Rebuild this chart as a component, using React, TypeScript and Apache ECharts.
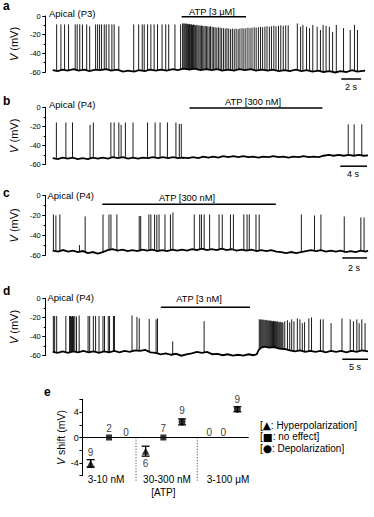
import React, { useEffect, useRef } from 'react';
import * as echarts from 'echarts';

const FONT = '"Liberation Sans", Arial, Helvetica, sans-serif';

// ---------- Panel a (time in s, voltage in mV) ----------
const aBaseline: [number, number][] = [[0.7, -58], [1.2, -59], [1.7, -57.5], [2.2, -58.5], [2.8, -57], [3.3, -58.5], [3.9, -57.5], [4.4, -59], [5.0, -57.5], [5.5, -58], [6.1, -57], [6.6, -58.5], [7.2, -57.5], [7.8, -59.5], [8.3, -58.5], [8.9, -59.5], [9.4, -58], [10.0, -59], [10.5, -57.5], [11.1, -58.5], [11.6, -57.5], [12.2, -58.5], [12.8, -57], [13.3, -58], [13.9, -56.5], [14.5, -57.5], [15.0, -56.5], [15.6, -58], [16.2, -57], [16.7, -58], [17.3, -57], [17.8, -58.5], [18.4, -57.5], [19.0, -58.5], [19.5, -57], [20.1, -58], [20.7, -57], [21.2, -58.5], [21.8, -57.5], [22.4, -58.5], [22.9, -57.5], [23.5, -59], [24.1, -58], [24.6, -59], [25.2, -57.5], [25.8, -59], [26.3, -58], [26.9, -59.5], [27.5, -58.5], [28.0, -60], [28.6, -59], [29.2, -60.5], [29.7, -59], [30.3, -60], [30.9, -58], [31.4, -59.5], [32.2, -58.5]];
const aSpikes: [number, number][] = [
  [1.10, -9], [1.53, -9], [1.90, -9], [2.30, -9], [2.97, -9], [3.17, -9], [3.43, -9], [3.70, -9], [4.13, -9], [4.43, -11], [5.03, -9], [5.23, -9], [5.43, -9], [5.63, -9], [5.90, -9], [6.10, -9], [6.37, -9], [6.67, -9], [6.90, -9], [7.37, -11], [8.87, -9], [9.37, -9], [9.73, -9], [9.93, -9], [10.27, -9], [10.60, -9], [10.93, -9], [11.27, -9], [11.73, -9], [12.10, -9], [12.40, -9], [13.03, -9], [13.60, -9], [13.80, -8],
  [13.92, -8], [14.02, -8], [14.12, -8.5], [14.21, -8], [14.31, -8.5], [14.40, -9], [14.50, -8.5], [14.61, -9], [14.70, -9], [14.80, -9.5], [14.91, -9], [15.02, -9.5], [15.12, -10], [15.23, -9.5], [15.35, -10], [15.46, -10], [15.58, -10.5], [15.70, -10], [15.83, -10.5], [15.95, -11], [16.08, -10.5], [16.22, -11], [16.35, -11], [16.49, -11.5], [16.62, -11], [16.78, -11.5], [16.93, -12], [17.08, -12], [17.25, -12.5], [17.41, -12], [17.58, -12.5], [17.74, -13], [17.92, -13], [18.10, -13.5], [18.27, -13], [18.45, -13.5], [18.64, -14], [18.82, -13.5], [19.01, -14], [19.20, -13.5], [19.40, -14], [19.58, -13.5], [19.79, -13], [19.98, -13.5], [20.18, -13], [20.39, -12.5], [20.60, -13], [20.80, -12.5], [21.02, -12], [21.22, -12.5], [21.44, -12], [21.66, -11.5], [21.87, -12], [22.10, -11.5], [22.31, -11], [22.55, -11.5], [22.76, -11], [23.00, -10.5], [23.22, -11], [23.47, -10.5], [23.70, -10], [23.95, -10.5], [24.20, -10], [24.45, -10],
  [25.37, -8], [25.70, -11.5], [25.93, -9.5], [26.30, -11.5], [26.60, -13], [26.93, -9.5], [27.37, -11.5], [27.70, -15], [27.97, -9.5], [28.27, -10.5], [28.60, -11.5], [28.93, -17], [29.30, -9.5], [30.03, -13], [30.70, -15], [31.13, -9.5], [31.43, -15],
];
const aATP: [number, number][] = [[13.7, -0.8], [20.2, -0.8]];
const aScale: [number, number][] = [[29.8, -67.5], [31.8, -67.5]];

// ---------- Panel b ----------
const bBaseline: [number, number][] = [[1.04, -53.5], [1.8, -54.5], [2.5, -53], [3.3, -54], [4.0, -53], [4.8, -54.5], [5.5, -53.5], [6.3, -54.5], [7.0, -53], [7.8, -54], [8.5, -53], [9.3, -54], [10.0, -52.5], [10.8, -53.5], [11.5, -52.5], [12.3, -54], [13.0, -53], [13.8, -54], [14.5, -53], [15.3, -53.5], [16.0, -52.5], [16.8, -53.5], [17.5, -52.5], [18.3, -53.5], [19.0, -52.5], [19.8, -53.5], [20.5, -53], [21.3, -53.5], [22.0, -52.5], [22.8, -53.5], [23.5, -52], [24.3, -53], [25.0, -52], [25.8, -53], [26.5, -51.5], [27.3, -52.5], [28.0, -51.5], [28.8, -52.5], [29.5, -51.5], [30.3, -52.5], [31.0, -52], [31.8, -53], [32.5, -52], [33.3, -52.5], [34.0, -51.5], [34.8, -52.5], [35.5, -52], [36.3, -53], [37.0, -52], [37.8, -52.5], [38.5, -51.5], [39.3, -52.5], [40.0, -52], [40.8, -52.5], [41.5, -51], [42.3, -50], [43.0, -51], [43.8, -50], [44.5, -51], [45.3, -50], [46.0, -51], [46.8, -50], [47.5, -51], [48.15, -50.5]];
const bSpikes: [number, number][] = [[1.59, -16], [3.01, -16], [4.0, -16], [6.62, -18.5], [7.11, -16], [9.73, -16], [10.22, -16], [10.92, -16], [11.26, -18.5], [11.90, -16], [13.04, -16], [15.21, -16], [16.34, -16], [17.08, -16], [18.18, -16], [19.45, -16], [19.95, -17.5], [20.25, -17.5], [45.19, -18], [46.07, -18], [47.21, -18]];
const bATP: [number, number][] = [[21.48, -0.8], [41.33, -0.8]];
const bScale: [number, number][] = [[44.0, -62], [48.0, -62]];

// ---------- Panel c ----------
const cBaseline: [number, number][] = [[0.56, -55.5], [1.0, -56.5], [1.4, -55], [1.8, -56.5], [2.2, -55.5], [2.6, -57], [3.0, -56], [3.4, -58], [3.8, -57], [4.2, -58.5], [4.6, -57], [5.0, -55], [5.4, -54], [5.8, -55.5], [6.2, -54.5], [6.6, -56], [7.0, -55], [7.4, -56], [7.8, -54.5], [8.2, -55.5], [8.6, -54.5], [9.0, -56], [9.4, -55], [9.8, -56], [10.2, -54.5], [10.6, -55.5], [11.0, -54.5], [11.4, -55.5], [11.8, -54], [12.2, -55], [12.6, -53.5], [13.0, -55], [13.4, -54], [13.8, -55], [14.2, -53.5], [14.6, -55], [15.0, -54], [15.4, -55.5], [15.8, -54.5], [16.2, -55.5], [16.6, -54.5], [17.0, -56], [17.4, -55], [17.8, -56], [18.2, -55], [18.6, -56.5], [19.0, -57], [19.4, -58], [19.8, -57], [20.2, -58], [20.6, -57], [21.0, -56], [21.4, -55], [21.8, -56], [22.2, -55], [22.6, -56.5], [23.0, -55.5], [23.4, -56.5], [23.8, -55.5], [24.2, -57], [24.6, -56], [25.0, -57], [25.4, -55.5], [25.8, -56.5], [26.0, -55.5]];
const cSpikes: [number, number][] = [[0.62, -19], [0.82, -20], [1.14, -19], [2.72, -50], [3.18, -21], [4.62, -19], [5.10, -19], [5.26, -19], [5.74, -19], [7.54, -20.5], [7.66, -20.5], [8.32, -19], [8.48, -19], [8.78, -19], [8.96, -19.5], [9.14, -19], [9.62, -19], [10.06, -19], [10.26, -17], [11.98, -19], [12.42, -19], [12.56, -19], [12.78, -19], [13.22, -19], [13.98, -19], [14.24, -19], [14.90, -19], [15.14, -19], [15.98, -19], [16.24, -19], [16.42, -19], [16.96, -19], [17.22, -19], [20.62, -19], [21.68, -20], [22.20, -19], [24.08, -21], [25.42, -22], [25.68, -22]];
const cATP: [number, number][] = [[4.56, -8.7], [18.56, -8.7]];
const cScale: [number, number][] = [[23.92, -63], [25.92, -63]];

// ---------- Panel d ----------
const dBaseline: [number, number][] = [[1.35, -56], [2.3, -57], [3.3, -55.5], [4.3, -57], [5.3, -55.5], [6.3, -56.5], [7.3, -55], [8.3, -56.5], [9.3, -55.5], [10.3, -57], [11.3, -55.5], [12.3, -56.5], [13.3, -55], [14.3, -56.5], [15.3, -55], [16.3, -56], [17.3, -54.5], [18.3, -55], [19.3, -54], [20.3, -56.5], [21.3, -57], [22.3, -58.5], [23.3, -57.5], [24.3, -59], [25.3, -58], [26.3, -60], [27.3, -58.5], [28.3, -57.5], [29.3, -56], [30.3, -57], [31.3, -56], [32.3, -58.5], [33.3, -58], [34.3, -59.5], [35.3, -58.5], [36.3, -60], [37.3, -59], [38.3, -60], [39.3, -58.5], [40.3, -59.5], [40.9, -58.5], [41.3, -54], [41.8, -51.5], [42.5, -50.5], [43.3, -51.5], [44.3, -51], [45.3, -52.5], [46.3, -53], [47.3, -54.5], [48.3, -55.5], [49.3, -54.5], [50.3, -56], [51.3, -55], [52.3, -56], [53.3, -55], [54.3, -56.5], [55.3, -55], [56.3, -56], [57.3, -55], [58.3, -56.5], [59.3, -55], [60.3, -56], [61.3, -54.5], [62.5, -55.5]];
const dSpikes: [number, number][] = [
  [1.48, -18.5], [1.73, -18.5], [2.12, -18.5], [3.90, -18.5], [4.62, -18.5], [4.81, -18.5], [5.0, -19], [5.19, -18.5], [5.38, -19], [5.63, -18.5], [5.96, -19], [6.48, -18], [8.21, -18.5], [8.52, -18.5], [9.23, -18.5], [9.67, -18.5], [10.33, -18.5], [11.10, -18.5], [11.40, -18.5], [12.12, -18.5], [12.37, -18.5], [13.13, -18.5], [13.33, -18.5], [16.73, -18], [17.69, -19.5], [18.13, -21], [20.06, -21.5], [21.40, -22], [21.67, -21], [24.62, -45], [30.71, -24],
  [41.40, -22], [41.60, -22], [41.78, -22.5], [41.96, -22], [42.15, -22.5], [42.33, -22.5], [42.52, -23], [42.70, -22.5], [42.88, -23], [43.06, -23], [43.25, -23.5], [43.43, -23], [43.62, -23.5], [43.80, -23.5], [43.98, -24], [44.17, -23.5], [44.35, -24], [44.53, -24], [44.72, -24.5], [44.90, -24], [45.08, -24.5], [45.27, -25], [45.45, -24.5], [45.63, -25], [45.82, -25], [46.00, -25.5],
  [46.35, -24], [46.87, -23], [47.31, -25], [47.69, -22], [48.13, -24], [48.79, -21], [49.29, -22], [49.75, -26], [50.19, -25], [51.02, -21], [51.54, -20], [53.27, -22], [53.79, -22], [55.33, -26], [57.44, -21], [59.04, -22], [59.67, -24], [60.33, -22], [60.77, -26], [61.29, -22], [61.92, -26],
];
const dATP: [number, number][] = [[22.31, -9.4], [39.62, -9.4]];
const dScale: [number, number][] = [[57.5, -63.7], [62.5, -63.7]];

// ---------- Panel e ----------
const eGroupLabels = ['3-10 nM', '30-300 nM', '3-100 \u03bcM'];
const eHyperX = [0.48, 3.8, 7.65];
const eNoneX = [1.59, 4.87, 8.49];
const eDepolX = [2.61, 6.0, 9.34];
const eHyperMean = [-4.08, -2.15, null];
const eHyperSem = [0.6, 0.78, null];
const eHyperN = [9, 6, 0];
const eNoneN = [2, 7, 0];
const eDepolMean = [null, 2.45, 4.44];
const eDepolSem = [null, 0.47, 0.39];
const eDepolN = [0, 9, 9];
const eSeparators = [3.22, 6.92];
const eLegend = [['\u25b2', 'Hyperpolarization'], ['\u25a0', 'no effect'], ['\u25cf', 'Depolarization']];

function baseAt(knots: [number, number][], t: number): number {
  if (t <= knots[0][0]) return knots[0][1];
  for (let i = 1; i < knots.length; i++) {
    if (t <= knots[i][0]) {
      const [t0, v0] = knots[i - 1];
      const [t1, v1] = knots[i];
      return v0 + ((v1 - v0) * (t - t0)) / (t1 - t0);
    }
  }
  return knots[knots.length - 1][1];
}

function spikeData(spikes: [number, number][], knots: [number, number][]) {
  const out: any[] = [];
  for (const [t, p] of spikes) {
    const b = baseAt(knots, t);
    out.push([t, b], [t, p], [t, '-']);
  }
  return out;
}

const lineBase = { type: 'line', showSymbol: false, symbol: 'none', silent: true, clip: false, animation: false };

function tracePanel(idx: number, baseline: [number, number][], spikes: [number, number][], atp: [number, number][], scale: [number, number][]) {
  return [
    { ...lineBase, xAxisIndex: idx, yAxisIndex: idx, data: baseline, lineStyle: { color: '#000', width: 1.8, join: 'miter' } },
    { ...lineBase, xAxisIndex: idx, yAxisIndex: idx, data: spikeData(spikes, baseline), connectNulls: false, lineStyle: { color: '#000', width: 0.9 } },
    { ...lineBase, xAxisIndex: idx, yAxisIndex: idx, data: atp, lineStyle: { color: '#000', width: 1.5 } },
    { ...lineBase, xAxisIndex: idx, yAxisIndex: idx, data: scale, lineStyle: { color: '#000', width: 1.5 } },
  ];
}

function traceYAxis(idx: number) {
  return {
    type: 'value', gridIndex: idx, min: -60, max: 0, interval: 20,
    name: '{i|V} (mV)', nameLocation: 'middle', nameGap: 21, nameRotate: 90,
    nameTextStyle: { fontFamily: FONT, fontSize: 11, color: '#000', rich: { i: { fontStyle: 'italic', fontFamily: FONT, fontSize: 11, color: '#000' } } },
    axisLine: { show: true, lineStyle: { color: '#000', width: 1 } },
    axisTick: { show: true, inside: false, length: 3.5, lineStyle: { color: '#000', width: 1 } },
    minorTick: { show: true, splitNumber: 2, length: 2, lineStyle: { color: '#000', width: 1 } },
    axisLabel: { fontFamily: FONT, fontSize: 7.5, color: '#000', margin: 5 },
    splitLine: { show: false },
  };
}

function txt(text: string, x: number, y: number, size: number, align = 'left', extra: any = {}) {
  return {
    type: 'text', x, y, silent: true,
    style: { text, fill: '#000', fontFamily: FONT, fontSize: size, textAlign: align, textVerticalAlign: 'middle', align, verticalAlign: 'middle', ...extra },
  };
}

export default function App() {
  const ref = useRef<HTMLDivElement>(null);
  useEffect(() => {
    if (!ref.current) return;
    const chart = echarts.init(ref.current, undefined, { renderer: 'svg' });

    const grids = [
      { left: 43, top: 16, width: 330, height: 56 },
      { left: 43, top: 107.3, width: 330, height: 57 },
      { left: 43, top: 195.7, width: 330, height: 59.3 },
      { left: 43, top: 298.3, width: 330, height: 57.4 },
      { left: 82.7, top: 399.3, width: 165.6, height: 76.4 },
    ];
    const maxT = [33.0, 48.89, 26.4, 63.46];
    const xAxes: any[] = maxT.map((m, i) => ({ type: 'value', gridIndex: i, min: 0, max: m, show: false }));
    xAxes.push({
      type: 'value', gridIndex: 4, min: 0, max: 10,
      axisLine: { show: true, onZero: true, lineStyle: { color: '#000', width: 1 } },
      axisTick: { show: false }, axisLabel: { show: false }, splitLine: { show: false },
    });
    const yAxes: any[] = [0, 1, 2, 3].map((i) => traceYAxis(i));
    yAxes.push({
      type: 'value', gridIndex: 4, min: -6, max: 6, interval: 2,
      name: '{i|V} shift (mV)', nameLocation: 'middle', nameGap: 15, nameRotate: 90,
      nameTextStyle: { fontFamily: FONT, fontSize: 10.5, color: '#000', rich: { i: { fontStyle: 'italic', fontFamily: FONT, fontSize: 10.5, color: '#000' } } },
      axisLine: { show: true, lineStyle: { color: '#000', width: 1 } },
      axisTick: { show: true, inside: false, length: 3.3, lineStyle: { color: '#000', width: 1 } },
      axisLabel: { fontFamily: FONT, fontSize: 9, color: '#000', margin: 4, formatter: (v: number) => (v === 4 || v === 0 || v === -4 ? String(v) : '') },
      splitLine: { show: false },
    });

    const errData: any[] = [];
    eHyperMean.forEach((m, i) => { if (m !== null) errData.push([eHyperX[i], m, eHyperSem[i]]); });
    eDepolMean.forEach((m, i) => { if (m !== null) errData.push([eDepolX[i], m, eDepolSem[i]]); });

    const hyperPts: any[] = [];
    const hyperZero: any[] = [];
    eHyperMean.forEach((m, i) => {
      if (m !== null) hyperPts.push({ value: [eHyperX[i], m], n: eHyperN[i], label: { position: m < -3 ? 'top' : 'bottom', distance: m < -3 ? 2 : 3.5 } });
      else hyperZero.push({ value: [eHyperX[i], 0], n: eHyperN[i] });
    });
    const nonePts: any[] = [];
    const zeroPts: any[] = [...hyperZero];
    eNoneN.forEach((n, i) => {
      if (n > 0) nonePts.push({ value: [eNoneX[i], 0], n });
      else zeroPts.push({ value: [eNoneX[i], 0], n });
    });
    const depolPts: any[] = [];
    eDepolMean.forEach((m, i) => {
      if (m !== null) depolPts.push({ value: [eDepolX[i], m], n: eDepolN[i], label: { distance: m > 3 ? 1 : 2.5 } });
      else zeroPts.push({ value: [eDepolX[i], 0], n: eDepolN[i] });
    });

    const nLabel = { show: true, position: 'top', distance: 1.5, fontFamily: FONT, fontSize: 10, color: '#000', formatter: (p: any) => String(p.data.n) };

    const series: any[] = [
      ...tracePanel(0, aBaseline, aSpikes, aATP, aScale),
      ...tracePanel(1, bBaseline, bSpikes, bATP, bScale),
      ...tracePanel(2, cBaseline, cSpikes, cATP, cScale),
      ...tracePanel(3, dBaseline, dSpikes, dATP, dScale),
      ...eSeparators.map((x) => ({ ...lineBase, xAxisIndex: 4, yAxisIndex: 4, data: [[x, 0], [x, -7]], lineStyle: { color: '#555', width: 1, type: [1.2, 1.6] } })),
      {
        type: 'custom', xAxisIndex: 4, yAxisIndex: 4, silent: true, clip: false, data: errData,
        renderItem: (params: any, api: any) => {
          const x = api.value(0), m = api.value(1), s = api.value(2);
          const top = api.coord([x, m + s]);
          const bot = api.coord([x, m - s]);
          const w = 4;
          const st = { stroke: '#000', lineWidth: 1.3 };
          return {
            type: 'group', children: [
              { type: 'line', shape: { x1: top[0], y1: top[1], x2: bot[0], y2: bot[1] }, style: st },
              { type: 'line', shape: { x1: top[0] - w, y1: top[1], x2: top[0] + w, y2: top[1] }, style: st },
              { type: 'line', shape: { x1: bot[0] - w, y1: bot[1], x2: bot[0] + w, y2: bot[1] }, style: st },
            ],
          };
        },
      },
      { type: 'scatter', xAxisIndex: 4, yAxisIndex: 4, silent: true, symbol: 'triangle', symbolSize: [7.5, 7], itemStyle: { color: '#000' }, data: hyperPts, label: nLabel },
      { type: 'scatter', xAxisIndex: 4, yAxisIndex: 4, silent: true, symbol: 'rect', symbolSize: 6, itemStyle: { color: '#000' }, data: nonePts, label: nLabel },
      { type: 'scatter', xAxisIndex: 4, yAxisIndex: 4, silent: true, symbol: 'circle', symbolSize: 7, itemStyle: { color: '#000' }, data: depolPts, label: nLabel },
      { type: 'scatter', xAxisIndex: 4, yAxisIndex: 4, silent: true, symbol: 'circle', symbolSize: 0, itemStyle: { color: '#000' }, data: zeroPts, label: { ...nLabel, distance: 0.5 } },
    ];

    const bold = { fontWeight: 'bold' };
    const legendRich = { lineHeight: 10, rich: { s: { fontFamily: '"DejaVu Sans", sans-serif', fontSize: 10.5, lineHeight: 10, fill: '#000', color: '#000' } } };
    const graphic: any[] = [
      txt('a', 3, 6, 12, 'left', bold),
      txt('b', 3, 100.5, 12, 'left', bold),
      txt('c', 3, 193, 12, 'left', bold),
      txt('d', 3, 291, 12, 'left', bold),
      txt('e', 44, 391.5, 12, 'left', bold),
      txt('Apical (P3)', 49, 13.5, 9.5),
      txt('Apical (P4)', 49, 104, 9.5),
      txt('Apical (P4)', 47.5, 195.5, 9.5),
      txt('Apical (P4)', 47.5, 297.7, 9.5),
      txt('ATP [3 \u03bcM]', 212, 11.5, 9.3, 'center'),
      txt('ATP [300 nM]', 253, 102, 9.3, 'center'),
      txt('ATP [300 nM]', 187, 197.7, 9.3, 'center'),
      txt('ATP [3 nM]', 199, 298.7, 9.3, 'center'),
      txt('2 s', 351, 87, 9, 'center'),
      txt('4 s', 353, 174, 9, 'center'),
      txt('2 s', 354, 268, 9, 'center'),
      txt('5 s', 355, 367, 9, 'center'),
      txt(eGroupLabels[0], 106, 479, 10, 'center'),
      txt(eGroupLabels[1], 167, 479, 10, 'center'),
      txt(eGroupLabels[2], 228, 479, 10, 'center'),
      txt('[ATP]', 163.3, 492.3, 10, 'center'),
      ...eLegend.map(([sym, name], i) => txt(`[{s|${sym}}: ${name}]`, 260, 425 + i * 11.7, 10, 'left', legendRich)),
    ];

    chart.setOption({
      animation: false,
      backgroundColor: '#fff',
      grid: grids,
      xAxis: xAxes,
      yAxis: yAxes,
      series,
      graphic,
    });
    return () => chart.dispose();
  }, []);
  return <div ref={ref} style={{ position: 'fixed', left: 0, top: 0, width: 374, height: 517, background: '#fff' }} />;
}
